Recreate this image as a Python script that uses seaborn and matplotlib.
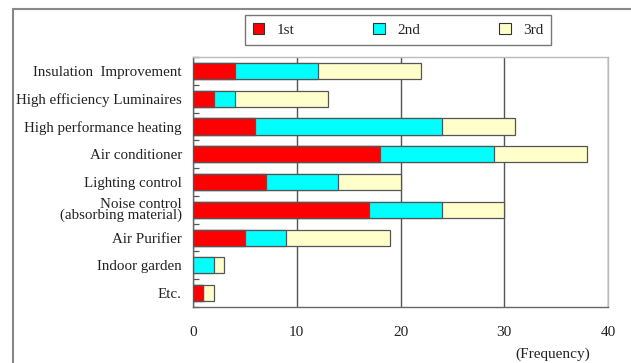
import numpy as np
import pandas as pd
import seaborn as sns
import matplotlib.pyplot as plt
from matplotlib.patches import Patch
from matplotlib.ticker import MultipleLocator, FixedLocator

sns.set_theme(style="white")
plt.rcParams['font.family'] = ['Liberation Serif', 'DejaVu Serif']

categories = [
    "Insulation  Improvement",
    "High efficiency Luminaires",
    "High performance heating",
    "Air conditioner",
    "Lighting control",
    "Noise control\n(absorbing material)",
    "Air Purifier",
    "Indoor garden",
    "Etc.",
]
first = [4, 2, 6, 18, 7, 17, 5, 0, 1]
second = [8, 2, 18, 11, 7, 7, 4, 2, 0]
third = [10, 9, 7, 9, 6, 6, 10, 1, 1]
series_names = ["1st", "2nd", "3rd"]
colors = ["#ff0000", "#00ffff", "#ffffcc"]

df = pd.DataFrame({"category": categories, "1st": first, "2nd": second, "3rd": third})
df["c1"] = df["1st"]
df["c2"] = df["1st"] + df["2nd"]
df["c3"] = df["c2"] + df["3rd"]

fig = plt.figure(figsize=(6.31, 3.63), dpi=100)
ax = fig.add_axes([193 / 631, 1 - 307 / 363, 415 / 631, 250 / 363])

# Stacked bars: draw cumulative totals from the outermost segment inward
for col, color in zip(["c3", "c2", "c1"], colors[::-1]):
    sns.barplot(data=df, x=col, y="category", orient="h", color=color,
                saturation=1, width=0.58, edgecolor="#555555", linewidth=0.9,
                ax=ax, zorder=3)

ax.set_xlim(0, 40)
ax.set_ylim(len(categories) - 0.5, -0.5)
ax.xaxis.set_major_locator(MultipleLocator(10))
ax.grid(axis="x", color="#555555", linewidth=1.0, zorder=0)
ax.set_axisbelow(True)
ax.set_xlabel("")
ax.set_ylabel("")

ax.tick_params(axis="x", length=0, pad=14, labelsize=11, colors="#222222")
ax.tick_params(axis="y", which="major", length=0, pad=8, labelsize=10.8, labelcolor="#222222")
for lbl in ax.get_yticklabels():
    lbl.set_linespacing(0.75)

ax.yaxis.set_minor_locator(FixedLocator(np.arange(-0.5, len(categories), 1.0)))
ax.tick_params(axis="y", which="minor", direction="in", length=4, width=0.9, color="#555555", left=True)

for side in ["left", "bottom"]:
    ax.spines[side].set_color("#666666")
    ax.spines[side].set_linewidth(1.0)
for side in ["top", "right"]:
    ax.spines[side].set_color("#bbbbbb")
    ax.spines[side].set_linewidth(1.0)

fig.text(553 / 631, 1 - 354 / 363, "(Frequency)", ha="center", va="center",
         fontsize=11, color="#222222")

# Outer frame lines along the top and left
fig.add_artist(plt.Line2D([13 / 631, 1], [1 - 9 / 363, 1 - 9 / 363], color="#888888", linewidth=1.5))
fig.add_artist(plt.Line2D([13 / 631, 13 / 631], [0, 1 - 9 / 363], color="#888888", linewidth=1.5))

handles = [Patch(facecolor=c, edgecolor="#333333", linewidth=0.8, label=n)
           for c, n in zip(colors, series_names)]
leg = fig.legend(handles=handles, loc="center", ncol=3,
                 bbox_to_anchor=(398 / 631, 1 - 30 / 363),
                 frameon=True, fancybox=False, edgecolor="#555555",
                 fontsize=11, handlelength=0.75, handleheight=0.75,
                 handletextpad=0.8, columnspacing=5.2, borderpad=0.5)
leg.get_frame().set_linewidth(1.0)

fig.savefig("out.png", dpi=100)
